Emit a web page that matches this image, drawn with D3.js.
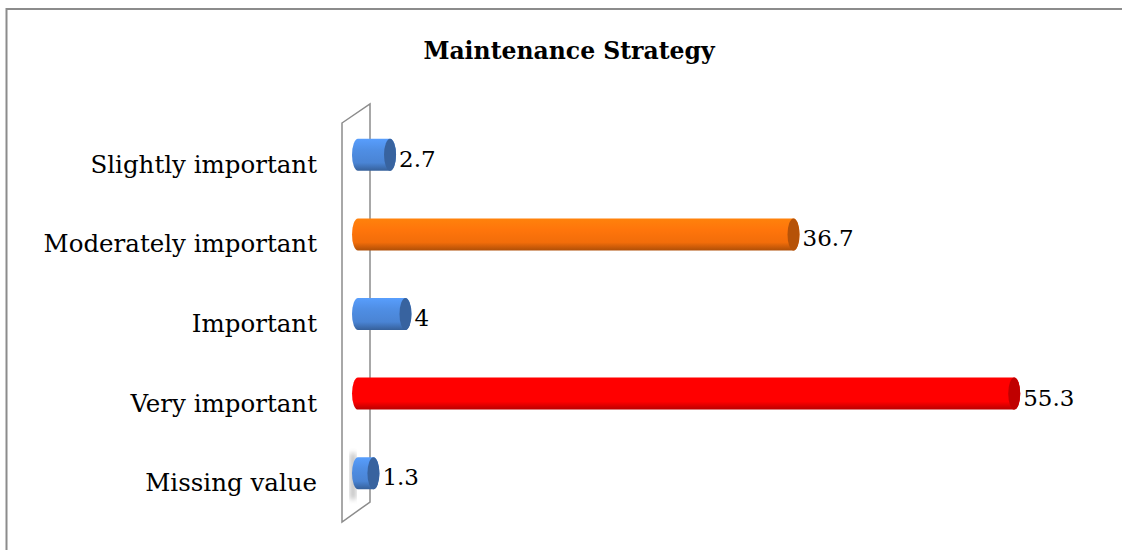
<!DOCTYPE html>
<html>
<head>
<meta charset="utf-8">
<script src="https://cdn.jsdelivr.net/npm/d3@7"></script>
<style>
  body { margin: 0; background: #fff; }
  svg text { font-family: "DejaVu Serif", serif; fill: #000; }
</style>
</head>
<body>
<div id="chart-container"></div>
<script>
const categories = ["Slightly important", "Moderately important", "Important", "Very important", "Missing value"];
const values = [2.7, 36.7, 4, 55.3, 1.3];
const barColors = ["#4a84d4", "#f26d0a", "#4a84d4", "#ff0000", "#4a84d4"];

const container = document.getElementById("chart-container");

function chart() {
    const width = 1122;
    const height = 550;

    const x = d3.scaleLinear()
        .domain([0, 60])
        .range([358, 1070]);

    const y = d3.scalePoint()
        .domain(categories)
        .range([115, 513])
        .padding(0.5);

    const barH = 32;

    const svg = d3.create("svg")
        .attr("width", width)
        .attr("height", height);

    const defs = svg.append("defs");
    barColors.forEach((c, i) => {
        const base = d3.color(c);
        const g = defs.append("linearGradient")
            .attr("id", "grad" + i)
            .attr("x1", 0).attr("y1", 0).attr("x2", 0).attr("y2", 1);
        g.append("stop").attr("offset", "0%").attr("stop-color", base.brighter(0.5));
        g.append("stop").attr("offset", "35%").attr("stop-color", base.brighter(0.2));
        g.append("stop").attr("offset", "75%").attr("stop-color", base);
        g.append("stop").attr("offset", "100%").attr("stop-color", base.darker(0.9));
    });
    defs.append("filter").attr("id", "blur")
        .append("feGaussianBlur").attr("stdDeviation", 2.5);

    // outer frame
    svg.append("rect")
        .attr("x", 6.5).attr("y", 9)
        .attr("width", width).attr("height", height)
        .attr("fill", "none")
        .attr("stroke", "#8c8c8c")
        .attr("stroke-width", 2);

    // title
    svg.append("text")
        .attr("x", 569)
        .attr("y", 59)
        .attr("text-anchor", "middle")
        .attr("font-size", 23.5)
        .attr("font-weight", "bold")
        .text("Maintenance Strategy");

    // 3d wall behind bars
    const x0 = x(0);
    svg.append("polygon")
        .attr("points", [
            [x0 - 16, 123], [x0 + 12, 104], [x0 + 12, 502], [x0 - 16, 522]
        ].join(" "))
        .attr("fill", "none")
        .attr("stroke", "#8c8c8c")
        .attr("stroke-width", 1.5);

    // category labels
    svg.append("g")
        .selectAll("text")
        .data(categories)
        .join("text")
        .attr("x", 317)
        .attr("y", d => y(d) + 18)
        .attr("text-anchor", "end")
        .attr("font-size", 24.5)
        .text(d => d);

    // bars as cylinders
    const bars = svg.append("g")
        .selectAll("g")
        .data(values)
        .join("g");

    const rx = 6;
    // faint shadow behind the smallest bar
    bars.filter(d => d === d3.min(values))
        .append("rect")
        .attr("x", x0 - 8)
        .attr("y", (d, i) => y(categories[values.indexOf(d)]) - barH / 2 - 4)
        .attr("width", 6)
        .attr("height", barH + 14)
        .attr("fill", "#9a9a9a")
        .attr("opacity", 0.6)
        .attr("filter", "url(#blur)");

    bars.append("path")
        .attr("d", (d, i) => {
            const cy = y(categories[i]);
            const xl = x(0), xr = x(d);
            const t = cy - barH / 2, b = cy + barH / 2;
            return `M${xl},${t} L${xr},${t} A${rx},${barH / 2} 0 0 1 ${xr},${b} L${xl},${b} A${rx},${barH / 2} 0 0 1 ${xl},${t} Z`;
        })
        .attr("fill", (d, i) => `url(#grad${i})`);

    bars.append("ellipse")
        .attr("cx", d => x(d))
        .attr("cy", (d, i) => y(categories[i]))
        .attr("rx", rx)
        .attr("ry", barH / 2)
        .attr("fill", (d, i) => d3.color(barColors[i]).darker(0.8));

    // value labels
    bars.append("text")
        .attr("x", d => x(d) + rx + 3)
        .attr("y", (d, i) => y(categories[i]) + 12)
        .attr("font-size", 23)
        .text(d => d);

    return svg.node();
}

container.appendChild(chart());
</script>
</body>
</html>
